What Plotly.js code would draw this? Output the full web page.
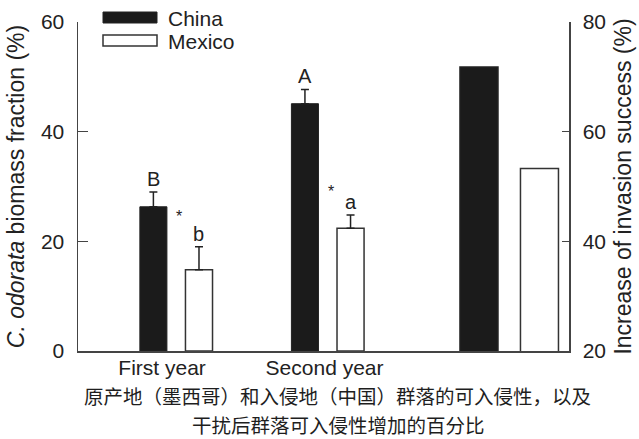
<!DOCTYPE html>
<html>
<head>
<meta charset="utf-8">
<script src="https://cdn.plot.ly/plotly-3.0.1.min.js"></script>
<style>html,body{margin:0;padding:0;background:#fff;}#chart{width:639px;height:439px;}</style>
</head>
<body>
<div id="chart"></div>
<script>
// ---- data ----
const groups = ['First year', 'Second year'];
const seriesNames = ['China', 'Mexico'];
const chinaBiomass = [26.3, 45.1];
const chinaErr = [2.7, 2.6];
const mexicoBiomass = [14.8, 22.4];
const mexicoErr = [4.2, 2.4];
const chinaLetters = ['B', 'A'];
const mexicoLetters = ['b', 'a'];
const sigMark = ['*', '*'];
const sigY = [25.2, 29.9];
const invasionIncrease = [71.8, 53.3]; // China, Mexico (right axis)
const leftTicks = [0, 20, 40, 60];
const rightTicks = [20, 40, 60, 80];
const captionLines = ['原产地（墨西哥）和入侵地（中国）群落的可入侵性，以及', '干扰后群落可入侵性增加的百分比'];

// ---- layout helpers (numeric x axis positions) ----
const groupPos = [0.646, 1.643];
const labelPos = [0.553, 1.622];
const invPos = 2.837;
const shift = 0.15, barW = 0.178;
const invShift = 0.199, invW = 0.25;

const W = 639, H = 439;
const M = {l: 78, r: 70, t: 22, b: 88};
const pw = W - M.l - M.r, ph = H - M.t - M.b;
const pxX = x => (x - M.l) / pw;
const pxY = y => 1 - (y - M.t) / ph;

const font = 'Arial, "Liberation Sans", Helvetica, sans-serif';
const txt = '#222';
const black = '#1b1b1b';
const cjk = '"Noto Sans CJK SC", sans-serif';

const chinaX = groupPos.map(g => g - shift);
const mexicoX = groupPos.map(g => g + shift);

const traces = [
  {
    type: 'bar', x: chinaX, y: chinaBiomass, width: chinaX.map(() => barW),
    marker: {color: black, line: {color: '#222', width: 1}},
    error_y: {type: 'data', symmetric: false, array: chinaErr, arrayminus: chinaErr.map(() => 0), color: '#222', thickness: 1.5, width: 4},
    showlegend: false, hoverinfo: 'skip'
  },
  {
    type: 'bar', x: mexicoX, y: mexicoBiomass, width: mexicoX.map(() => barW),
    marker: {color: '#fff', line: {color: '#333', width: 1.5}},
    error_y: {type: 'data', symmetric: false, array: mexicoErr, arrayminus: mexicoErr.map(() => 0), color: '#222', thickness: 1.5, width: 4},
    showlegend: false, hoverinfo: 'skip'
  },
  {
    type: 'bar', x: [invPos - invShift, invPos + invShift], y: invasionIncrease, yaxis: 'y2',
    width: [invW, invW],
    marker: {color: [black, '#fff'], line: {color: ['#222', '#333'], width: 1.5}},
    showlegend: false, hoverinfo: 'skip'
  }
];

const annotations = [];
chinaX.forEach((x, i) => annotations.push({x: x, y: chinaBiomass[i] + chinaErr[i], xref: 'x', yref: 'y', text: chinaLetters[i], showarrow: false, yanchor: 'bottom', yshift: 0, font: {family: font, size: 20, color: txt}}));
mexicoX.forEach((x, i) => annotations.push({x: x, y: mexicoBiomass[i] + mexicoErr[i], xref: 'x', yref: 'y', text: mexicoLetters[i], showarrow: false, yanchor: 'bottom', yshift: 0, font: {family: font, size: 20, color: txt}}));
groupPos.forEach((g, i) => annotations.push({x: g + 0.02, y: sigY[i], xref: 'x', yref: 'y', text: sigMark[i], showarrow: false, yanchor: 'middle', yshift: -4, font: {family: font, size: 16, color: txt}}));
// legend text
annotations.push({x: pxX(166), y: pxY(18), xref: 'paper', yref: 'paper', xanchor: 'left', yanchor: 'middle', text: seriesNames[0], showarrow: false, font: {family: font, size: 21, color: txt}});
annotations.push({x: pxX(166), y: pxY(41), xref: 'paper', yref: 'paper', xanchor: 'left', yanchor: 'middle', text: seriesNames[1], showarrow: false, font: {family: font, size: 21, color: txt}});
// caption (two centred lines)
annotations.push({x: pxX(337), y: pxY(395.5), xref: 'paper', yref: 'paper', xanchor: 'center', yanchor: 'middle', text: captionLines[0], showarrow: false, borderpad: 0, font: {family: cjk, size: 19.5, color: '#1e1e1e'}});
annotations.push({x: pxX(338), y: pxY(424.5), xref: 'paper', yref: 'paper', xanchor: 'center', yanchor: 'middle', text: captionLines[1], showarrow: false, borderpad: 0, font: {family: cjk, size: 19.5, color: '#1e1e1e'}});

const shapes = [
  {type: 'rect', xref: 'paper', yref: 'paper', x0: pxX(103), x1: pxX(157), y0: pxY(23), y1: pxY(12), fillcolor: black, line: {color: '#222', width: 1}},
  {type: 'rect', xref: 'paper', yref: 'paper', x0: pxX(103), x1: pxX(157), y0: pxY(46), y1: pxY(35), fillcolor: '#fff', line: {color: '#333', width: 1.5}}
];

const axisCommon = {showgrid: false, zeroline: false, showline: true, linecolor: '#444', linewidth: 1.5, tickcolor: '#444', tickwidth: 1.5, tickfont: {family: font, size: 21, color: txt}, fixedrange: true};

const layout = {
  width: W, height: H,
  margin: M,
  paper_bgcolor: '#fff', plot_bgcolor: '#fff',
  barmode: 'overlay',
  showlegend: false,
  xaxis: Object.assign({}, axisCommon, {range: [0, pw / 152], tickmode: 'array', tickvals: labelPos, ticktext: groups, ticks: '', ticklabelstandoff: -3}),
  yaxis: Object.assign({}, axisCommon, {range: [0, 60], tickmode: 'array', tickvals: leftTicks, ticks: 'inside', ticklen: 10, ticklabelstandoff: 8,
    title: {text: '<i>C. odorata</i> biomass fraction (%)', font: {family: font, size: 23, color: txt}, standoff: 10}}),
  yaxis2: Object.assign({}, axisCommon, {range: [20, 80], overlaying: 'y', side: 'right', tickmode: 'array', tickvals: rightTicks, ticks: 'inside', ticklen: 7, ticklabelstandoff: 8,
    title: {text: 'Increase of invasion success (%)', font: {family: font, size: 23, color: txt}, standoff: 10}}),
  annotations: annotations,
  shapes: shapes
};

Plotly.newPlot('chart', traces, layout, {displayModeBar: false, staticPlot: true});
</script>
</body>
</html>
